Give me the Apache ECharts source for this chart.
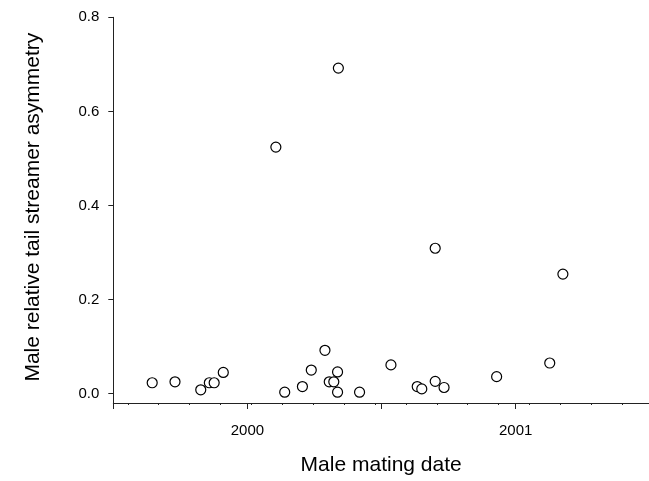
<!DOCTYPE html>
<html>
<head>
<meta charset="utf-8">
<script src="https://cdn.jsdelivr.net/npm/echarts@6/dist/echarts.min.js"></script>
<style>
html,body{margin:0;padding:0;background:#fff;}
#chart{width:649px;height:481px;}
</style>
</head>
<body>
<div id="chart"></div>
<script>
// Male mating date (decimal year)
var matingDate = [
  1999.645, 1999.730, 1999.826, 1999.858, 1999.876, 1999.910,
  2000.106, 2000.139, 2000.205, 2000.238, 2000.289, 2000.305,
  2000.322, 2000.336, 2000.336, 2000.339, 2000.418, 2000.535,
  2000.633, 2000.650, 2000.700, 2000.700, 2000.733, 2000.929,
  2001.127, 2001.176
];
// Male relative tail streamer asymmetry
var asymmetry = [
  0.023, 0.025, 0.008, 0.023, 0.023, 0.045,
  0.524, 0.003, 0.015, 0.050, 0.092, 0.025,
  0.025, 0.046, 0.003, 0.692, 0.003, 0.061,
  0.015, 0.010, 0.026, 0.309, 0.013, 0.036,
  0.065, 0.254
];
var xMajorTicks = [1999.5, 2000, 2000.5, 2001];
var xTickLabels = [2000, 2001];
var xMinorTicks = [
  1999.554, 1999.669, 1999.784, 1999.899, 2000.015, 2000.130,
  2000.245, 2000.360, 2000.475, 2000.591, 2000.706, 2000.821,
  2000.936, 2001.051, 2001.167, 2001.282, 2001.397
];
var yTicks = [0, 0.2, 0.4, 0.6, 0.8];

var points = matingDate.map(function (d, i) { return [d, asymmetry[i]]; });

var FONT = '"Liberation Sans", Arial, Helvetica, sans-serif';
var AXIS_COLOR = '#222';

var chart = echarts.init(document.getElementById('chart'), null, {renderer: 'canvas'});
chart.setOption({
  backgroundColor: '#fff',
  animation: false,
  grid: {left: 113.3, top: 17.3, right: 0, bottom: 74.8, containLabel: false},
  xAxis: [{
    type: 'value',
    min: 1999.5,
    max: 2001.497,
    position: 'bottom',
    name: 'Male mating date',
    nameLocation: 'middle',
    nameGap: 52,
    nameTextStyle: {fontFamily: FONT, fontSize: 21, color: '#000', verticalAlign: 'top'},
    axisLine: {show: true, onZero: false, lineStyle: {color: AXIS_COLOR, width: 1}},
    axisTick: {show: true, inside: false, length: 6, customValues: xMajorTicks, lineStyle: {color: AXIS_COLOR, width: 1}},
    axisLabel: {show: true, margin: 20, customValues: xTickLabels, fontFamily: FONT, fontSize: 15, color: '#000',
      formatter: function (v) { return String(Math.round(v)); }},
    splitLine: {show: false}
  }, {
    type: 'value',
    min: 1999.5,
    max: 2001.497,
    position: 'bottom',
    axisLine: {show: false, onZero: false},
    axisTick: {show: true, inside: false, length: 2, customValues: xMinorTicks, lineStyle: {color: AXIS_COLOR, width: 1}},
    axisLabel: {show: false},
    splitLine: {show: false}
  }],
  yAxis: {
    type: 'value',
    min: -0.02,
    max: 0.8,
    name: 'Male relative tail streamer asymmetry',
    nameLocation: 'middle',
    nameGap: 70,
    nameRotate: 90,
    nameTextStyle: {fontFamily: FONT, fontSize: 21, color: '#000', padding: [0, 0, 0, 6]},
    axisLine: {show: true, onZero: false, lineStyle: {color: AXIS_COLOR, width: 1}},
    axisTick: {show: true, inside: false, length: 5, customValues: yTicks, lineStyle: {color: AXIS_COLOR, width: 1}},
    axisLabel: {show: true, margin: 14, customValues: yTicks, fontFamily: FONT, fontSize: 15, color: '#000',
      formatter: function (v) { return v.toFixed(1); }},
    splitLine: {show: false}
  },
  series: [{
    type: 'scatter',
    xAxisIndex: 0,
    yAxisIndex: 0,
    data: points,
    symbol: 'circle',
    symbolSize: 10,
    itemStyle: {color: '#fff', borderColor: '#000', borderWidth: 1.2, opacity: 1},
    emphasis: {disabled: true}
  }]
});
</script>
</body>
</html>
